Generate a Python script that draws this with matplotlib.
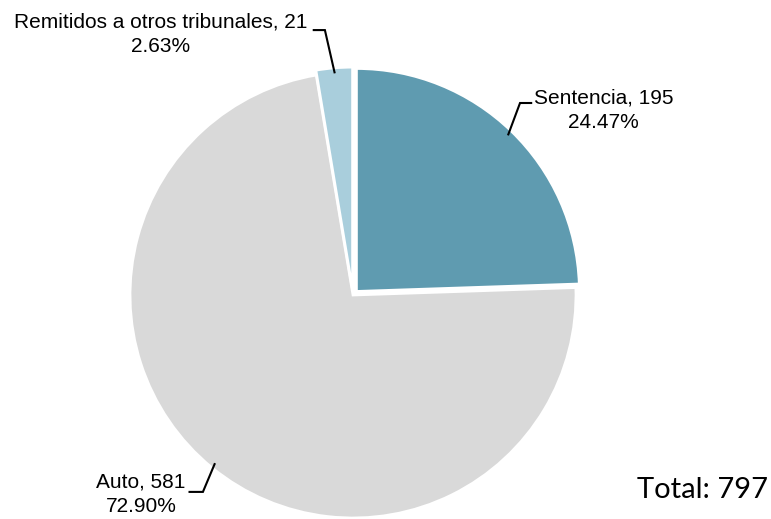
import numpy as np
import matplotlib
matplotlib.use("Agg")
import matplotlib.pyplot as plt

# Pie chart: resoluciones por tipo

labels = ["Sentencia", "Auto", "Remitidos a otros tribunales"]
counts = [195, 581, 21]
colors = ["#5f9bb0", "#d9d9d9", "#a9cedc"]
explode = [0.022, 0, 0.022]

# label layout: knee of leader line (x, y), horizontal run, text x, text y, alignment
label_pos = [((0.749, 0.861), 0.05, 0.810, 0.830, "left"),
             ((-0.673, -0.883), -0.06, -0.750, -0.895, "right"),
             ((-0.126, 1.188), -0.05, -0.206, 1.168, "right")]

plt.rcParams["font.family"] = ["Liberation Sans", "DejaVu Sans"]

fig = plt.figure(figsize=(7.71, 5.19), dpi=100)
ax = fig.add_axes([0, 0, 1, 1])

total = sum(counts)
wedges, _ = ax.pie(counts, colors=colors, explode=explode, startangle=90,
                   counterclock=False, radius=1,
                   wedgeprops=dict(edgecolor="white", linewidth=2))

for w, lab, n, ((kx, ky), run, tx, ty, ha) in zip(wedges, labels, counts, label_pos):
    ang = np.deg2rad((w.theta1 + w.theta2) / 2)
    cx, cy = w.center
    x0, y0 = cx + 0.98 * np.cos(ang), cy + 0.98 * np.sin(ang)
    ax.plot([x0, kx, kx + run], [y0, ky, ky], color="black", lw=1.5,
            solid_joinstyle="miter")
    ax.text(tx, ty, f"{lab}, {n}\n{n / total * 100:.2f}%", ha=ha, va="center",
            multialignment="center", fontsize=15, linespacing=1.35)

ax.text(0.996, 0.055, f"Total: {total}", transform=fig.transFigure,
        ha="right", va="center", fontsize=21,
        family=["Lato", "DejaVu Sans"])

ax.set_xlim(-353 / 223, (771 - 353) / 223)
ax.set_ylim(-224 / 223, 295 / 223)
ax.set_aspect("equal")
ax.axis("off")

fig.savefig("out.png", dpi=100)
